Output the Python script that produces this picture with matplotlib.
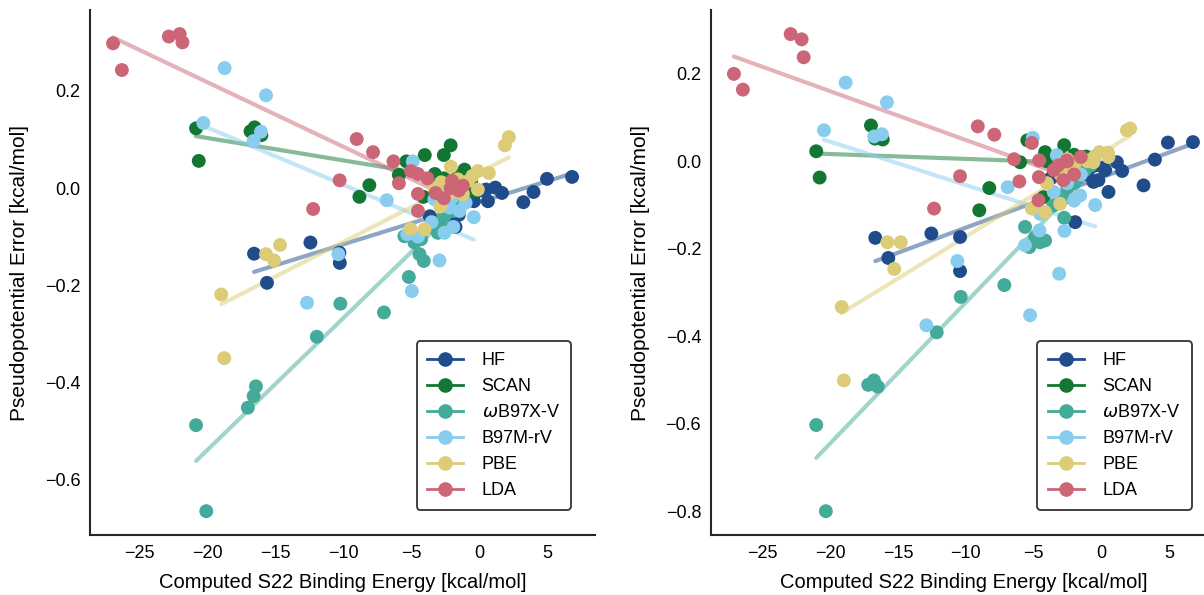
import numpy as np
import matplotlib
matplotlib.use("Agg")
from matplotlib import pyplot as plt
from matplotlib.lines import Line2D

plt.rcParams["font.family"] = ["Liberation Sans", "DejaVu Sans"]

methods = ["HF", "SCAN", r"$\omega$B97X-V", "B97M-rV", "PBE", "LDA"]
colors = ["#204C8C", "#117733", "#44AA99", "#88CCEE", "#DDCC77", "#CC6677"]

# Left panel: computed binding energy vs pseudopotential error
hf_x_a = [-16.54, -15.59, -12.4, -10.27, -10.24, 6.82, 4.98, 3.99, 3.24, 1.67, 1.18,
          0.64, -0.39, 0.51, -1.74, -3.63, -2.06, -1.8, -1.0, -0.3, -1.5, 0.3]
hf_y_a = [-0.135, -0.195, -0.112, -0.133, -0.154, 0.023, 0.019, -0.008, -0.029, -0.010, 0.001,
          -0.027, -0.027, -0.003, -0.080, -0.058, -0.061, -0.030, -0.020, -0.010, -0.055, -0.005]
scan_x_a = [-20.8, -20.6, -16.8, -16.5, -16.0, -8.07, -8.8, -5.35, -5.9, -4.0, -2.6,
            -2.1, -3.26, -3.16, -4.1, -2.0, -1.08, -1.57, -0.6, -0.35, -1.45, -2.6]
scan_y_a = [0.123, 0.056, 0.117, 0.125, 0.109, 0.006, -0.018, 0.055, 0.027, 0.068, 0.068,
            0.088, 0.029, 0.009, -0.018, 0.014, 0.038, 0.025, 0.014, -0.006, -0.027, 0.020]
wb_x_a = [-20.05, -20.8, -17.0, -16.57, -16.4, -11.93, -10.2, -7.0, -5.17, -4.39, -4.07,
          -5.5, -4.76, -4.26, -3.29, -3.04, -2.55, -2.2, -1.7, -1.2, -2.8, -1.9]
wb_y_a = [-0.665, -0.488, -0.452, -0.428, -0.408, -0.306, -0.238, -0.256, -0.183, -0.136, -0.150,
          -0.099, -0.112, -0.105, -0.082, -0.092, -0.058, -0.037, -0.023, -0.010, -0.072, -0.047]
b97_x_a = [-18.7, -15.66, -20.27, -16.57, -16.03, -10.35, -12.65, -4.95, -6.79, -2.92, -2.55,
           -5.29, -2.18, -1.45, -4.88, -3.29, -4.5, -3.5, -1.9, -2.0, -1.0, -0.4]
b97_y_a = [0.247, 0.191, 0.134, 0.097, 0.116, -0.136, -0.236, -0.212, -0.025, -0.149, -0.092,
           -0.095, -0.040, -0.047, 0.055, -0.023, -0.100, -0.070, -0.080, -0.020, -0.030, -0.060]
pbe_x_a = [-14.63, -15.66, -15.07, -18.95, -18.73, 2.18, 1.89, -2.08, -0.1, 0.71, -2.79,
           -1.57, -2.06, -1.2, -0.1, -2.87, -4.02, -5.05, -0.83, -3.3, -0.5, -2.5]
pbe_y_a = [-0.117, -0.136, -0.149, -0.219, -0.350, 0.105, 0.088, 0.044, 0.035, 0.031, 0.012,
           0.018, -0.010, -0.013, -0.003, -0.038, -0.085, -0.084, 0.014, 0.000, 0.025, 0.005]
lda_x_a = [-26.9, -26.25, -22.8, -22.0, -21.8, -12.2, -10.25, -9.0, -7.8, -6.3, -5.9,
           -5.0, -4.5, -4.5, -4.5, -2.6, -2.1, -3.8, -3.2, -2.0, -1.5, -1.2]
lda_y_a = [0.298, 0.243, 0.312, 0.317, 0.300, -0.043, 0.016, 0.101, 0.074, 0.055, 0.010,
           0.035, 0.029, -0.012, -0.047, -0.021, 0.000, 0.020, -0.010, 0.015, -0.005, 0.005]

# Right panel
hf_x_b = [-16.68, -15.72, -12.54, -10.42, -10.42, 4.93, 6.78, 3.97, 3.13, 1.55, 1.16,
          0.54, 0.17, -0.57, -0.2, -1.92, -3.7, -2.0, -1.0, -0.5, 0.3, -0.6]
hf_y_b = [-0.175, -0.221, -0.165, -0.173, -0.251, 0.043, 0.044, 0.004, -0.055, -0.022, -0.002,
          -0.070, -0.014, -0.047, -0.043, -0.139, -0.038, -0.040, -0.030, -0.010, -0.020, -0.010]
scan_x_b = [-17.0, -16.7, -16.13, -21.04, -20.79, -8.26, -9.0, -5.45, -4.14, -2.73, -5.99,
            -3.27, -1.11, -4.26, -2.17, -1.55, -3.0, -2.0, -1.0, -4.0, -1.5, -0.5]
scan_y_b = [0.082, 0.052, 0.050, 0.023, -0.037, -0.061, -0.112, 0.048, 0.021, 0.037, -0.002,
            0.002, 0.011, -0.082, -0.013, -0.002, 0.010, 0.015, 0.005, 0.000, -0.010, 0.010]
wb_x_b = [-20.33, -21.04, -17.2, -16.78, -16.5, -12.14, -10.37, -7.15, -5.62, -5.3, -4.88,
          -4.51, -4.14, -2.73, -3.53, -2.79, -2.5, -1.8, -1.2, -3.0, -0.8, -2.0]
wb_y_b = [-0.800, -0.603, -0.511, -0.501, -0.515, -0.391, -0.310, -0.283, -0.150, -0.196, -0.173,
          -0.185, -0.181, -0.129, -0.101, -0.085, -0.060, -0.040, -0.020, -0.080, -0.010, -0.050]
b97_x_b = [-18.87, -15.82, -20.47, -16.76, -16.19, -10.62, -12.91, -5.25, -6.9, -4.56, -2.71,
           -3.1, -1.55, -5.05, -3.27, -5.62, -0.44, -3.5, -2.5, -1.5, -4.5, -2.0]
b97_y_b = [0.180, 0.135, 0.071, 0.057, 0.062, -0.228, -0.375, -0.352, -0.059, -0.158, -0.159,
           -0.257, -0.078, 0.054, 0.014, -0.192, -0.100, -0.070, -0.050, -0.030, -0.120, -0.090]
pbe_x_b = [-15.79, -14.8, -15.28, -19.16, -19.0, 1.9, 2.14, -0.13, -1.06, -0.57, 0.54,
           -5.12, -4.14, -3.03, -2.54, -3.0, -2.0, -1.0, -4.0, -0.5, 0.5, -2.5]
pbe_y_b = [-0.185, -0.185, -0.246, -0.333, -0.501, 0.071, 0.075, 0.021, 0.002, -0.002, 0.010,
           -0.108, -0.116, -0.097, -0.021, -0.030, -0.010, 0.000, -0.050, 0.010, 0.020, 0.005]
lda_x_b = [-22.93, -22.12, -21.97, -27.12, -26.46, -12.34, -10.42, -9.11, -7.89, -6.43, -6.04,
           -4.58, -4.6, -5.12, -3.16, -2.54, -2.79, -4.63, -2.5, -1.5, -3.5, -2.0]
lda_y_b = [0.291, 0.279, 0.238, 0.200, 0.164, -0.108, -0.034, 0.080, 0.061, 0.005, -0.046,
           0.002, -0.036, 0.042, -0.009, 0.002, -0.043, -0.089, 0.000, 0.010, -0.020, -0.030]

panel_a = [(hf_x_a, hf_y_a), (scan_x_a, scan_y_a), (wb_x_a, wb_y_a),
           (b97_x_a, b97_y_a), (pbe_x_a, pbe_y_a), (lda_x_a, lda_y_a)]
panel_b = [(hf_x_b, hf_y_b), (scan_x_b, scan_y_b), (wb_x_b, wb_y_b),
           (b97_x_b, b97_y_b), (pbe_x_b, pbe_y_b), (lda_x_b, lda_y_b)]


def draw_panel(ax, panel):
    # Scatter and linear fit for each method
    for (x, y), color in zip(panel, colors):
        x = np.asarray(x)
        y = np.asarray(y)
        ax.scatter(x, y, s=100, color=color, edgecolors="none", zorder=3)
        slope, intercept = np.polyfit(x, y, 1)
        xs = np.array([x.min(), x.max()])
        ax.plot(xs, slope * xs + intercept, color=color, lw=3, alpha=0.5,
                solid_capstyle="round", zorder=2)

    # Labels
    ax.set_xlabel("Computed S22 Binding Energy [kcal/mol]", fontsize=14.5, labelpad=8)
    ax.set_ylabel("Pseudopotential Error [kcal/mol]", fontsize=15, labelpad=11)
    ax.tick_params(length=0, labelsize=13, pad=7)

    # Remove borders
    ax.spines["top"].set_visible(False)
    ax.spines["right"].set_visible(False)
    for side in ("left", "bottom"):
        ax.spines[side].set_color("#262626")
        ax.spines[side].set_linewidth(1.5)

    # Legend
    handles = [Line2D([], [], color=c, marker="o", ms=9.5, lw=2) for c in colors]
    leg = ax.legend(handles, methods, loc="lower right", fontsize=13,
                    handlelength=2.0, handletextpad=1.0, labelspacing=0.5,
                    borderpad=0.6, borderaxespad=0, fancybox=True, framealpha=1,
                    bbox_to_anchor=(0.952, 0.048))
    leg.get_frame().set_edgecolor("#333333")
    leg.get_frame().set_linewidth(1.3)


fig = plt.figure(figsize=(12.04, 5.95), dpi=100)
ax_a = fig.add_axes([0.0748, 0.1008, 0.4194, 0.882])
ax_b = fig.add_axes([0.5905, 0.1008, 0.4194, 0.882])

draw_panel(ax_a, panel_a)
draw_panel(ax_b, panel_b)

fig.savefig("out.png", dpi=100)
